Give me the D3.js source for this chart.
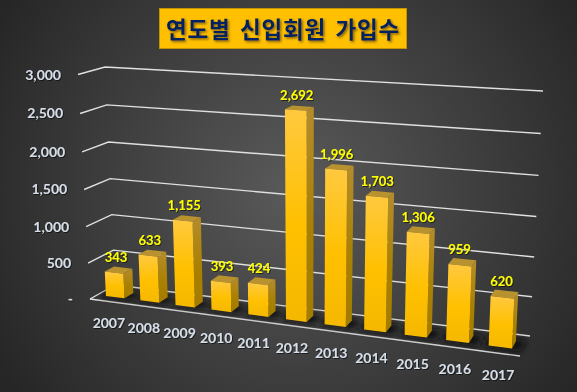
<!DOCTYPE html>
<html>
<head>
<meta charset="utf-8">
<script src="https://cdn.jsdelivr.net/npm/d3@7"></script>
<style>
html, body { margin: 0; padding: 0; background: #333; overflow: hidden; }
svg { display: block; }
.tick-label { font-family: Lato, sans-serif; font-weight: 700; font-size: 14px; fill: #d6dfe9; }
.value-label { font-family: Lato, sans-serif; font-weight: 700; font-size: 13px; fill: #ffff00; text-anchor: middle; }
</style>
</head>
<body>
<div id="chart"></div>
<script>
const years = ['2007', '2008', '2009', '2010', '2011', '2012', '2013', '2014', '2015', '2016', '2017'];
const members = [343, 633, 1155, 393, 424, 2692, 1996, 1703, 1306, 959, 620];
const gridValues = [0, 500, 1000, 1500, 2000, 2500, 3000];
const gridLabels = ['-', '500', '1,000', '1,500', '2,000', '2,500', '3,000'];
const titleText = '연도별 신입회원 가입수';

const width = 577;
const height = 392;

const svg = d3.select('#chart').append('svg').attr('width', width).attr('height', height);
const defs = svg.append('defs');

const bg = defs.append('radialGradient').attr('id', 'bg').attr('gradientUnits', 'userSpaceOnUse')
    .attr('cx', 295).attr('cy', 190).attr('r', 345);
bg.append('stop').attr('offset', '0%').attr('stop-color', '#5a5a5a');
bg.append('stop').attr('offset', '100%').attr('stop-color', '#262626');

const frontFill = defs.append('linearGradient').attr('id', 'front').attr('x1', 0).attr('y1', 0).attr('x2', 0).attr('y2', 1);
frontFill.append('stop').attr('offset', '0%').attr('stop-color', '#ffc93f');
frontFill.append('stop').attr('offset', '55%').attr('stop-color', '#ffc000');
frontFill.append('stop').attr('offset', '100%').attr('stop-color', '#f5b800');

const sideFill = defs.append('linearGradient').attr('id', 'side').attr('x1', 0).attr('y1', 0).attr('x2', 0).attr('y2', 1);
sideFill.append('stop').attr('offset', '0%').attr('stop-color', '#b48c2a');
sideFill.append('stop').attr('offset', '60%').attr('stop-color', '#a98000');
sideFill.append('stop').attr('offset', '100%').attr('stop-color', '#a37c00');

const soft = defs.append('filter').attr('id', 'soft').attr('x', '-20%').attr('y', '-20%').attr('width', '140%').attr('height', '140%');
soft.append('feGaussianBlur').attr('stdDeviation', 3);

const textShadow = defs.append('filter').attr('id', 'textShadow').attr('x', '-20%').attr('y', '-20%').attr('width', '140%').attr('height', '140%');
textShadow.append('feDropShadow').attr('dx', 1).attr('dy', 1).attr('stdDeviation', 0.7)
    .attr('flood-color', '#000').attr('flood-opacity', 0.55);

const titleShadow = defs.append('filter').attr('id', 'titleShadow').attr('x', '-10%').attr('y', '-20%').attr('width', '120%').attr('height', '140%');
titleShadow.append('feDropShadow').attr('dx', 1.5).attr('dy', 1.5).attr('stdDeviation', 1)
    .attr('flood-color', '#5a4500').attr('flood-opacity', 0.75);

svg.append('rect').attr('width', width).attr('height', height).attr('fill', 'url(#bg)');

// box corners of the 3d plot on screen, u = left/right, v = bottom/top, w = front/back
const box = {
    fl0: [90, 299], fr0: [520, 356], bl0: [115, 285], br0: [530, 336],
    fl1: [78, 74.5], fr1: [531, 102], bl1: [105, 67], br1: [543, 91]
};

// foreshortening, r > 1 squeezes the start of the range
const persp = r => t => t / (t + (1 - t) * r);
const warpU = persp(1.14);
const warpV = persp(1.05);

const xBand = d3.scaleBand().domain(years).range([0, 1]).paddingInner(0.46).paddingOuter(0.25);
const yValue = d3.scaleLinear().domain([0, 3000]).range([0, 1]);
const depth = d3.scaleLinear().domain([0, 1]).range([0.3, 0.67]);

function project(u, v, w) {
    const a = warpU(u), b = warpV(v);
    return [0, 1].map(i => {
        const f0 = d3.interpolateNumber(box.fl0[i], box.fr0[i])(a);
        const b0 = d3.interpolateNumber(box.bl0[i], box.br0[i])(a);
        const f1 = d3.interpolateNumber(box.fl1[i], box.fr1[i])(a);
        const b1 = d3.interpolateNumber(box.bl1[i], box.br1[i])(a);
        const low = f0 + (b0 - f0) * w;
        const high = f1 + (b1 - f1) * w;
        return low + (high - low) * b;
    });
}

const line = d3.line();

// title
const titleBox = svg.append('g');
titleBox.append('rect').attr('x', 159.5).attr('y', 8.5).attr('width', 247).attr('height', 40)
    .attr('fill', '#ffc000').attr('stroke', '#c49300').attr('stroke-width', 1);
titleBox.append('text').text(titleText)
    .attr('x', 283).attr('y', 37.5).attr('text-anchor', 'middle')
    .attr('font-family', '"Noto Sans CJK KR", sans-serif').attr('font-weight', 700)
    .attr('font-size', 22.5).attr('letter-spacing', 0.8).attr('word-spacing', 3.5)
    .attr('fill', '#002060').attr('filter', 'url(#titleShadow)');

// gridlines, left wall edge then back wall
svg.append('g').selectAll('path').data(gridValues).enter().append('path')
    .attr('d', d => line([project(0, yValue(d), 0), project(0, yValue(d), 1), project(1, yValue(d), 1)]))
    .attr('fill', 'none').attr('stroke', '#e0e0e0').attr('stroke-width', 1.4);

svg.append('path').attr('d', line([project(0, 0, 0), project(1, 0, 0)]))
    .attr('fill', 'none').attr('stroke', '#e0e0e0').attr('stroke-width', 1.4);

svg.append('g').selectAll('text').data(gridValues).enter().append('text')
    .attr('class', 'tick-label')
    .attr('text-anchor', 'end')
    .attr('x', d => project(0, yValue(d), 0)[0] - 17)
    .attr('y', d => project(0, yValue(d), 0)[1] + 5)
    .attr('filter', 'url(#textShadow)')
    .text((d, i) => gridLabels[i]);

function barFaces(year, value) {
    const u0 = xBand(year), u1 = u0 + xBand.bandwidth();
    const v = yValue(value), w0 = depth(0), w1 = depth(1);
    return {
        front: [project(u0, 0, w0), project(u1, 0, w0), project(u1, v, w0), project(u0, v, w0)],
        side: [project(u1, 0, w0), project(u1, 0, w1), project(u1, v, w1), project(u1, v, w0)],
        top: [project(u0, v, w0), project(u1, v, w0), project(u1, v, w1), project(u0, v, w1)],
        shadow: [project(u0 - 0.012, 0, w0 - 0.1), project(u1 + 0.02, 0, w0 - 0.1), project(u1 + 0.02, 0, w1 + 0.1), project(u0 - 0.012, 0, w1 + 0.1)]
    };
}

const closed = pts => line(pts) + 'Z';

svg.append('g').attr('filter', 'url(#soft)').selectAll('path').data(years).enter().append('path')
    .attr('d', (d, i) => closed(barFaces(d, members[i]).shadow))
    .attr('fill', '#111').attr('opacity', 0.95);

const bars = svg.append('g').selectAll('g').data(years).enter().append('g');
bars.append('path').attr('d', (d, i) => closed(barFaces(d, members[i]).side)).attr('fill', 'url(#side)');
bars.append('path').attr('d', (d, i) => closed(barFaces(d, members[i]).top)).attr('fill', '#b8922f');
bars.append('path').attr('d', (d, i) => closed(barFaces(d, members[i]).front)).attr('fill', 'url(#front)');

const midU = d => xBand(d) + xBand.bandwidth() / 2;

svg.append('g').selectAll('text').data(years).enter().append('text')
    .attr('class', 'value-label')
    .attr('x', (d, i) => project(midU(d), yValue(members[i]), 0.5)[0] - 3)
    .attr('y', (d, i) => project(midU(d), yValue(members[i]), 0.5)[1] - 8)
    .attr('filter', 'url(#textShadow)')
    .text((d, i) => d3.format(',')(members[i]));

svg.append('g').selectAll('text').data(years).enter().append('text')
    .attr('class', 'tick-label')
    .attr('text-anchor', 'middle')
    .attr('x', d => project(midU(d), 0, 0)[0] + 1)
    .attr('y', d => project(midU(d), 0, 0)[1] + 27)
    .attr('filter', 'url(#textShadow)')
    .text(d => d);
</script>
</body>
</html>
